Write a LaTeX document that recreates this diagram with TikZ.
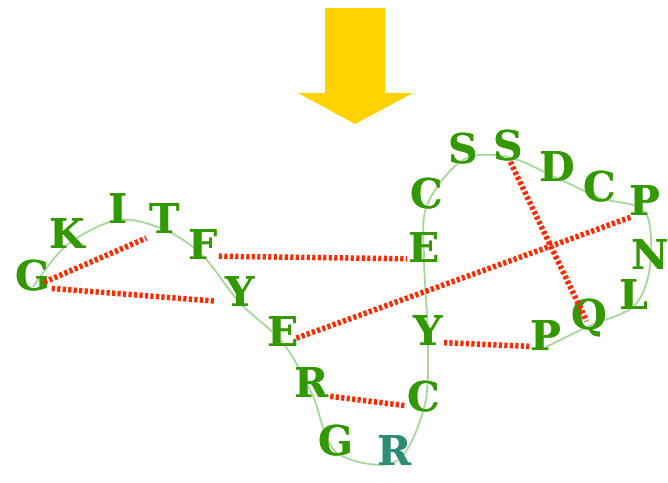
\documentclass[tikz,border=0pt]{standalone}
\usepackage{fontspec}
\newfontfamily\resfont{DejaVu Serif}
\definecolor{lgreen}{HTML}{339900}
\definecolor{lteal}{HTML}{2E8B74}
\definecolor{bbone}{HTML}{A6D89A}
\definecolor{dotred}{HTML}{FF2A00}
\definecolor{arrowy}{HTML}{FFD200}
\tikzset{
  res/.style={text=lgreen, font=\resfont\bfseries\fontsize{41}{41}\selectfont, inner sep=1pt, text height=0.73em, text depth=0pt},
  rest/.style={res, text=lteal},
  bond/.style={draw=dotred, line width=5.5pt, dash pattern=on 3.2pt off 2.3pt},
  backbone/.style={draw=bbone, line width=1.8pt},
}
\begin{document}
\begin{tikzpicture}[x=1pt,y=-1pt]
\useasboundingbox (0,0) rectangle (668,482);
% arrow
\fill[arrowy] (325,8) -- (385,8) -- (385,93) -- (413,93) -- (355,124) -- (298,93) -- (325,93) -- cycle;
% residues
\node[res] (g1) at (33,287) {G};
\node[res] (k1) at (67,245) {K};
\node[res] (i1) at (118,220) {I};
\node[res] (t1) at (165,230) {T};
\node[res] (f1) at (203,256) {F};
\node[res] (y1) at (240,303) {Y};
\node[res] (e1) at (283,343) {E};
\node[res] (r1) at (312,394) {R};
\node[res] (g2) at (336,452) {G};
\node[rest] (r2) at (395,462) {R};
\node[res] (c1) at (424,408) {C};
\node[res] (y2) at (428,342) {Y};
\node[res] (e2) at (424,259) {E};
\node[res] (c2) at (427,205) {C};
\node[res] (s1) at (463,160) {S};
\node[res] (s2) at (508,157) {S};
\node[res] (d1) at (557,178) {D};
\node[res] (c3) at (600,198) {C};
\node[res] (p2) at (645,212) {P};
\node[res] (n1) at (650,266) {N};
\node[res] (l1) at (634,306) {L};
\node[res] (q1) at (589,326) {Q};
\node[res] (p1) at (546,347) {P};
% backbone
\draw[backbone] plot[smooth, tension=0.55] coordinates {(g1) (k1) (i1) (t1) (f1) (y1) (e1) (r1) (g2) (r2) (c1) (y2) (e2) (c2) (s1) (s2) (d1) (c3) (p2) (n1) (l1) (q1) (p1)};
% redraw letters over backbone
\foreach \n/\t/\s in {g1/G/res,k1/K/res,i1/I/res,t1/T/res,f1/F/res,y1/Y/res,e1/E/res,r1/R/res,g2/G/res,r2/R/rest,c1/C/res,y2/Y/res,e2/E/res,c2/C/res,s1/S/res,s2/S/res,d1/D/res,c3/C/res,p2/P/res,n1/N/res,l1/L/res,q1/Q/res,p1/P/res}
  \node[\s] at (\n) {\t};
% bonds
\draw[bond, shorten >=8pt] (g1) -- (t1);
\draw[bond, shorten >=10pt] (g1) -- (y1);
\draw[bond] (f1) -- (e2);
\draw[bond] (e1) -- (p2);
\draw[bond] (s2) -- (q1);
\draw[bond] (y2) -- (p1);
\draw[bond] (r1) -- (c1);
\end{tikzpicture}
\end{document}
